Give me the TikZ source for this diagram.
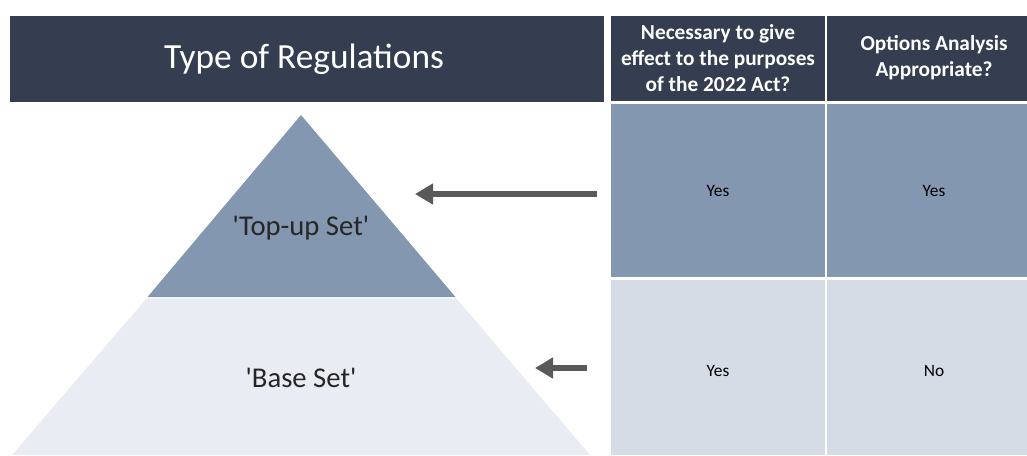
\documentclass[tikz,border=0pt]{standalone}
\usepackage{fontspec}
\setmainfont{Carlito}
\usetikzlibrary{arrows.meta}

\begin{document}
\begin{tikzpicture}[x=0.75pt,y=-0.75pt]
        % Colours
        \definecolor{headdark}{RGB}{52,62,80}
        \definecolor{topblue}{RGB}{132,151,176}
        \definecolor{baselight}{RGB}{233,236,242}
        \definecolor{rowlight}{RGB}{214,220,229}
        \definecolor{arrowgray}{RGB}{89,89,89}

        \tikzset{
            headtext/.style={font=\fontsize{16}{19.5}\selectfont\bfseries, text=white, align=center},
            celltext/.style={font=\fontsize{13}{15}\selectfont, text=black},
            tiertext/.style={font=\fontsize{21.5}{25}\selectfont, text=black!85},
            bigarrow/.style={arrowgray, line width=5pt, -{Triangle[length=13.5pt, width=15pt]}}
        }

        \useasboundingbox (0,0) rectangle (1027,455);

        % Title bar
        \fill[headdark] (10,16) rectangle (604,102);
        \node[font=\fontsize{26.5}{30}\selectfont, text=white] (title) at (304,59) {Type of Regulations};

        % Table header
        \fill[headdark] (611,16) rectangle (825,101);
        \fill[headdark] (827,16) rectangle (1027,101);
        \node[headtext] (necessary) at (718,58) {Necessary to give\\effect to the purposes\\of the 2022 Act?};
        \node[headtext] (options) at (934,58) {Options Analysis\\Appropriate?};

        % Table rows
        \fill[topblue] (611,104) rectangle (825,277);
        \fill[topblue] (827,104) rectangle (1027,277);
        \fill[rowlight] (611,280) rectangle (825,455);
        \fill[rowlight] (827,280) rectangle (1027,455);
        \node[celltext] (topNec) at (718,191) {Yes};
        \node[celltext] (topOpt) at (934,191) {Yes};
        \node[celltext] (baseNec) at (718,371) {Yes};
        \node[celltext] (baseOpt) at (934,371) {No};

        % Pyramid
        \fill[topblue] (301,115) -- (455.5,297) -- (147.5,297) -- cycle;
        \fill[baselight] (146.5,298.5) -- (456.5,298.5) -- (590,455) -- (12,455) -- cycle;
        \node[tiertext] (topSet) at (301,228) {\textquotesingle Top-up Set\textquotesingle};
        \node[tiertext] (baseSet) at (301,378) {\textquotesingle Base Set\textquotesingle};

        % Arrows
        \coordinate (topFrom) at (597,194);
        \coordinate (topTo) at (415,194);
        \coordinate (baseFrom) at (587,368);
        \coordinate (baseTo) at (535,368);
        \draw[bigarrow] (topFrom) -- (topTo);
        \draw[bigarrow] (baseFrom) -- (baseTo);
    \end{tikzpicture}
\end{document}
